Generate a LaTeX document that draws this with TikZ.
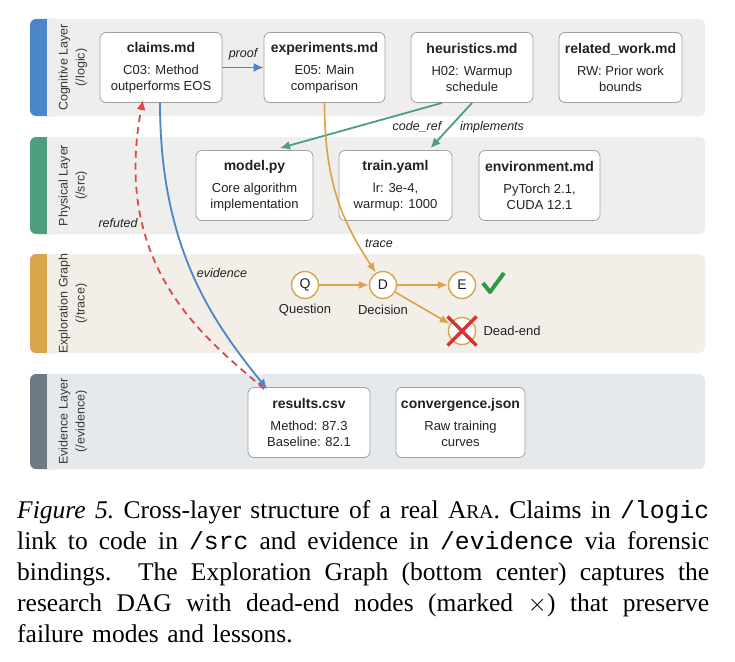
\documentclass[tikz,border=0pt]{standalone}
\usepackage{fontspec}
\setmainfont{Liberation Serif}
\setsansfont{Liberation Sans}
\setmonofont{Liberation Mono}[Scale=0.97]
\usetikzlibrary{arrows.meta}

\definecolor{cogblue}{HTML}{4A86C8}
\definecolor{physgreen}{HTML}{4E9E80}
\definecolor{tracegold}{HTML}{D9A44A}
\definecolor{evidslate}{HTML}{6D7985}
\definecolor{cogbg}{HTML}{EFEEEC}
\definecolor{physbg}{HTML}{EEEEEC}
\definecolor{tracebg}{HTML}{F3EEE7}
\definecolor{evidbg}{HTML}{E6E9EC}
\definecolor{refutedred}{HTML}{DC4848}
\definecolor{okgreen}{HTML}{2F9A47}
\definecolor{xred}{HTML}{D93232}
\definecolor{boxline}{HTML}{A0A0A0}
\definecolor{ink}{HTML}{222222}

\newcommand{\ftitle}[1]{{\fontsize{14}{16}\selectfont\bfseries #1}\\[6pt]}
\newcommand{\capline}[1]{{\spaceskip=0.25em plus 1em minus 0.08em\relax\makebox[692pt][s]{#1}}}

\begin{document}
\begin{tikzpicture}[x=1pt, y=-1pt,
    filebox/.style={draw=boxline, line width=0.8pt, fill=white, rounded corners=6pt,
      align=center, minimum height=70pt, inner sep=2pt, text=ink,
      font=\sffamily\fontsize{13}{16}\selectfont},
    layerlabel/.style={rotate=90, align=center, text=ink!90,
      font=\sffamily\fontsize{12.5}{17}\selectfont},
    dagnode/.style={circle, draw=tracegold, line width=1.4pt, fill=white,
      minimum size=27pt, inner sep=0pt, text=ink, font=\sffamily\fontsize{14}{16}\selectfont},
    daglabel/.style={text=ink, font=\sffamily\fontsize{13}{16}\selectfont},
    edgelabel/.style={text=ink, font=\sffamily\itshape\fontsize{12.5}{15}\selectfont},
    proofline/.style={cogblue, line width=1.8pt, -{Latex[length=10pt, width=9pt]}},
    codeline/.style={physgreen, line width=1.8pt, -{Latex[length=10pt, width=9pt]}},
    traceline/.style={tracegold, line width=1.6pt, -{Latex[length=10pt, width=8pt]}},
    refline/.style={refutedred, line width=1.8pt, dash pattern=on 7pt off 5pt,
      -{Latex[length=10pt, width=9pt]}}]

\useasboundingbox (0,0) rectangle (735,661);
\fill[white] (0,0) rectangle (735,661);

\foreach \ya/\yb/\sc/\bc/\lbl in {19/116/cogblue/cogbg/{Cognitive Layer\\(/logic)},
    137/234/physgreen/physbg/{Physical Layer\\(/src)},
    254/353/tracegold/tracebg/{Exploration Graph\\(/trace)},
    374/469/evidslate/evidbg/{Evidence Layer\\(/evidence)}} {
  \fill[\sc, rounded corners=6pt] (30,\ya) rectangle (60,\yb);
  \fill[\bc, rounded corners=6pt] (47,\ya) rectangle (705,\yb);
  \fill[\bc] (47,\ya) rectangle (56,\yb);
  \node[layerlabel] (layer\ya) at (73,{(\ya+\yb)/2}) {\lbl};
}

\node[filebox, minimum width=122pt] (claims) at (161,67.5) {\ftitle{claims.md}C03: Method\\outperforms EOS};
\node[filebox, minimum width=121pt] (experiments) at (324.5,67.5) {\ftitle{experiments.md}E05: Main\\comparison};
\node[filebox, minimum width=122pt] (heuristics) at (472,67.5) {\ftitle{heuristics.md}H02: Warmup\\schedule};
\node[filebox, minimum width=123pt] (relwork) at (620.5,67.5) {\ftitle{related\_work.md}RW: Prior work\\bounds};

\node[filebox, minimum width=117pt] (model) at (254.5,185.5) {\ftitle{model.py}Core algorithm\\implementation};
\node[filebox, minimum width=113pt] (trainyaml) at (395.5,185.5) {\ftitle{train.yaml}lr: 3e-4,\\warmup: 1000};
\node[filebox, minimum width=121pt] (envmd) at (539.5,185.5) {\ftitle{environment.md}PyTorch 2.1,\\CUDA 12.1};

\node[dagnode] (q) at (305,285) {Q};
\node[dagnode] (d) at (383,285) {D};
\node[dagnode] (e) at (462,285) {E};
\node[dagnode] (dead) at (462,331) {};
\node[daglabel] (qlabel) at (305,310) {Question};
\node[daglabel] (dlabel) at (383,310) {Decision};
\node[daglabel, anchor=west] (deadlabel) at (480,331) {Dead-end};

\node[filebox, minimum width=122pt] (results) at (309,422.5) {\ftitle{results.csv}Method: 87.3\\Baseline: 82.1};
\node[filebox, minimum width=129pt] (convergence) at (460.5,422.5) {\ftitle{convergence.json}Raw training\\curves};

\draw[proofline] (claims) -- (experiments) node[edgelabel, midway, above=3pt] (prooflabel) {proof};
\draw[codeline] ([xshift=-30pt]heuristics.south) -- ([xshift=25.5pt, yshift=2pt]model.north);
\draw[codeline] (heuristics.south) -- ([xshift=35pt, yshift=2pt]trainyaml.north);
\node[edgelabel] (coderef) at (417,127) {code\_ref};
\node[edgelabel] (impl) at (492,127) {implements};

\draw[traceline] (experiments.south) .. controls +(0,80) and +(-33,-50) .. (d.120);
\node[edgelabel] (tracelabel) at (379,244) {trace};
\draw[traceline] (q) -- (d);
\draw[traceline] (d) -- (e);
\draw[traceline] (d) -- (dead);

\draw[xred, line width=3.5pt] (dead.center) +(-14.5,-14.5) -- +(14.5,14.5);
\draw[xred, line width=3.5pt] (dead.center) +(14.5,-14.5) -- +(-14.5,14.5);
\draw[okgreen, line width=4pt, line join=round] (483,283) -- (490,292) -- (504,273);

\draw[proofline] ([xshift=-1pt]claims.south) .. controls +(0,148) and +(-52,-65) .. ([xshift=-42pt, yshift=-2pt]results.north);
\node[edgelabel] (evidlabel) at (222,273) {evidence};
\draw[refline] ([xshift=-45pt, yshift=-2pt]results.north) .. controls +(-44,-41) and +(-34,177) .. ([xshift=-18pt, yshift=3pt]claims.south);
\node[edgelabel] (reflabel) at (118,223) {refuted};

\node[anchor=north west, text width=692pt, align=left, inner sep=0pt,
  font=\rmfamily\fontsize{25.5}{31}\selectfont] (caption) at (17,500) {%
  \capline{\textit{Figure 5.}\ Cross-layer structure of a real A{\fontsize{19.5}{31}\selectfont RA}.\ Claims in \texttt{/logic}}\\
  \capline{link to code in \texttt{/src} and evidence in \texttt{/evidence} via forensic}\\
  \capline{bindings.\ \ The Exploration Graph (bottom center) captures the}\\
  \capline{research DAG with dead-end nodes (marked $\times$) that preserve}\\
  failure modes and lessons.};
\end{tikzpicture}
\end{document}
